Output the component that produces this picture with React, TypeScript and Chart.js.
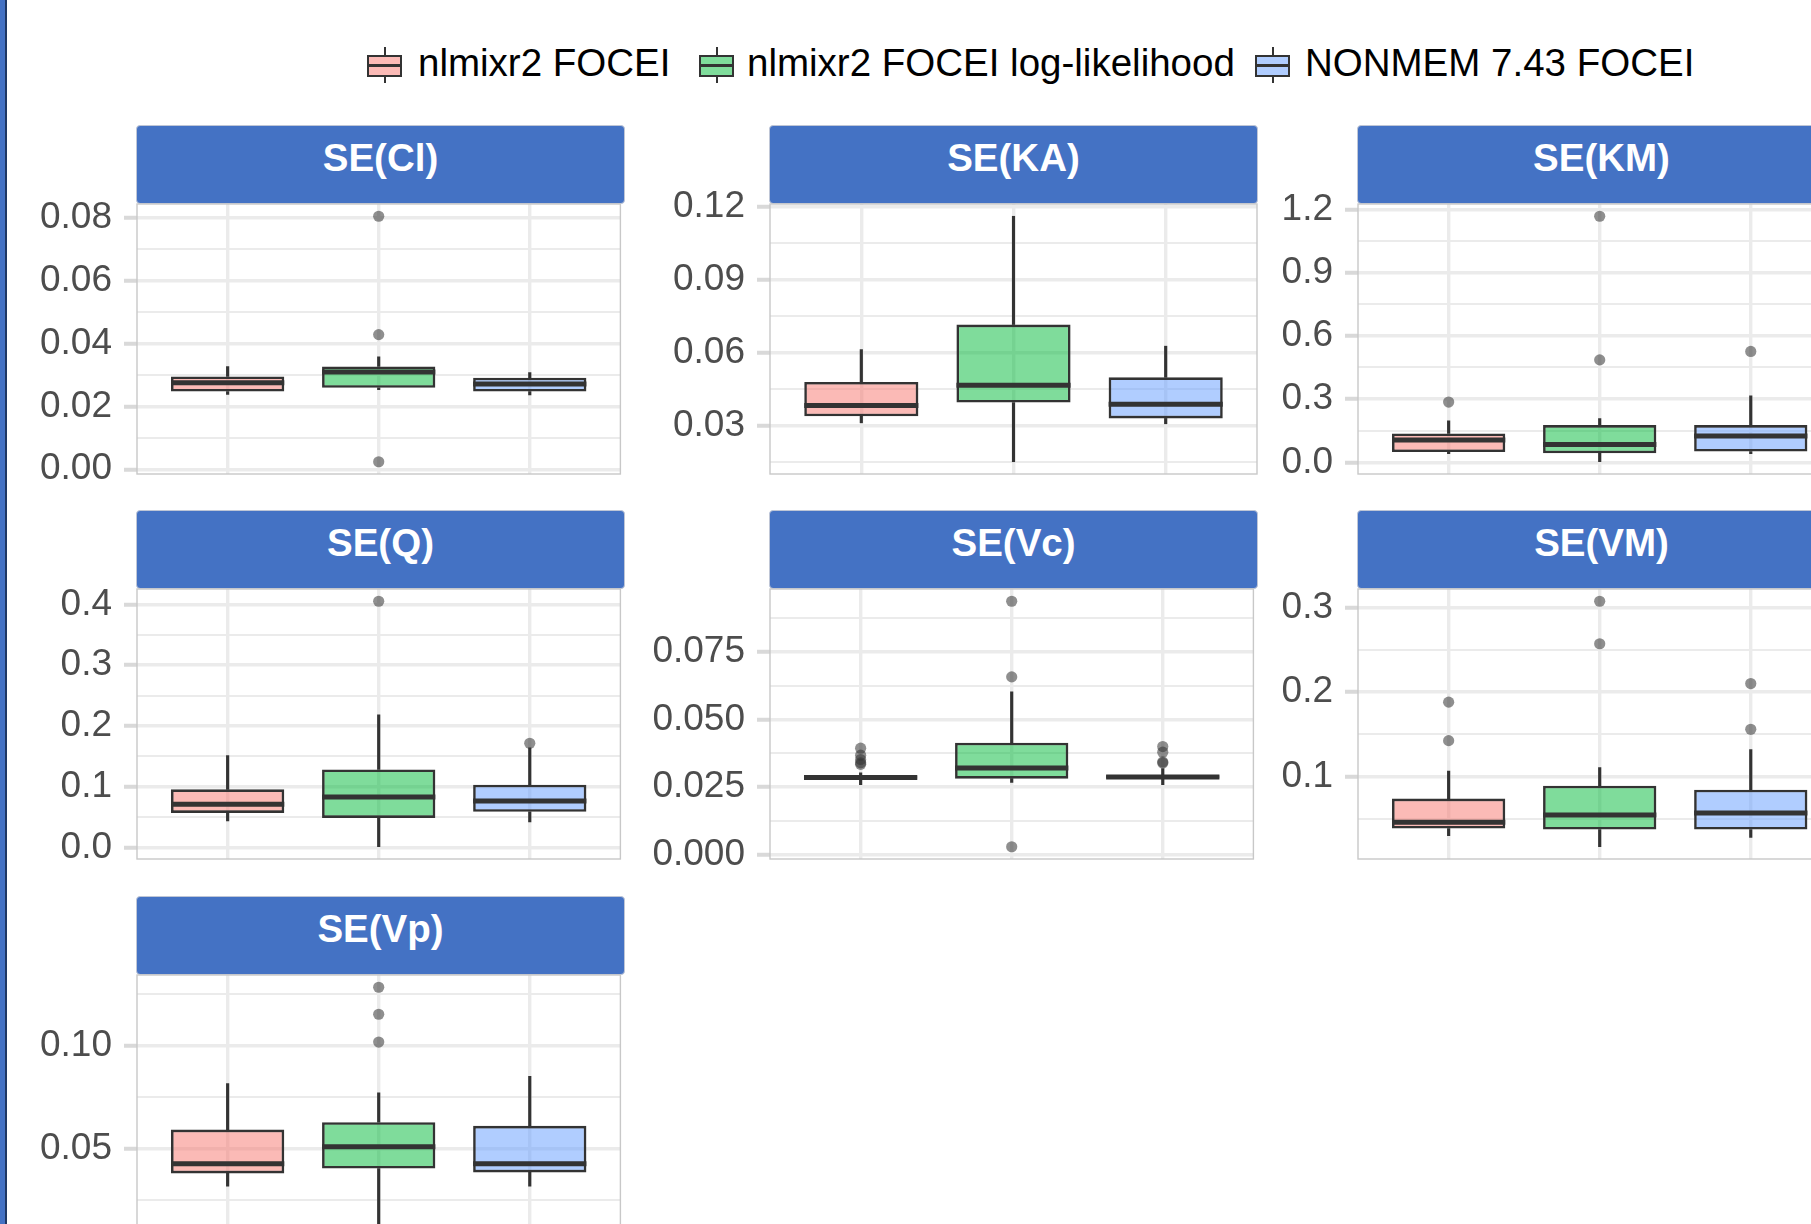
import React, { useEffect, useRef } from "react";
import { Chart, registerables } from "chart.js";

Chart.register(...registerables);
Chart.defaults.font.family = "'Liberation Sans', Arial, Helvetica, sans-serif";

// ---------------- data ----------------
const methods = ["nlmixr2 FOCEI", "nlmixr2 FOCEI log-likelihood", "NONMEM 7.43 FOCEI"];
const methodFills = ["rgba(248,118,109,0.5)", "rgba(0,186,56,0.5)", "rgba(97,156,255,0.5)"];
const panelTitles = ["SE(Cl)", "SE(KA)", "SE(KM)", "SE(Q)", "SE(Vc)", "SE(VM)", "SE(Vp)"];

// per method: [lower whisker, Q1, median, Q3, upper whisker]
const seClStats = [
  [0.0238, 0.0247, 0.0275, 0.0295, 0.0326],
  [0.0253, 0.0259, 0.0309, 0.0327, 0.0357],
  [0.0236, 0.0247, 0.0271, 0.0291, 0.0307],
];
const seClOutliers = [[], [0.0804, 0.0428, 0.0024], []];
const seClTicks = ["0.00", "0.02", "0.04", "0.06", "0.08"];

const seKaStats = [
  [0.0311, 0.0338, 0.0382, 0.0479, 0.0612],
  [0.0151, 0.0394, 0.0465, 0.0715, 0.116],
  [0.0307, 0.0329, 0.0387, 0.0498, 0.0626],
];
const seKaOutliers = [[], [], []];
const seKaTicks = ["0.03", "0.06", "0.09", "0.12"];

const seKmStats = [
  [0.041, 0.049, 0.106, 0.137, 0.197],
  [0.003, 0.043, 0.085, 0.177, 0.208],
  [0.041, 0.051, 0.125, 0.177, 0.316],
];
const seKmOutliers = [[0.286], [1.167, 0.486], [0.526]];
const seKmTicks = ["0.0", "0.3", "0.6", "0.9", "1.2"];

const seQStats = [
  [0.0441, 0.0572, 0.0714, 0.0959, 0.1515],
  [0.0016, 0.049, 0.0834, 0.1286, 0.2185],
  [0.0425, 0.0589, 0.0768, 0.1035, 0.164],
];
const seQOutliers = [[], [0.405], [0.1717]];
const seQTicks = ["0.0", "0.1", "0.2", "0.3", "0.4"];

const seVcStats = [
  [0.0259, 0.0281, 0.0285, 0.0291, 0.0303],
  [0.0267, 0.0281, 0.0321, 0.0414, 0.0603],
  [0.0259, 0.0282, 0.0287, 0.0294, 0.0318],
];
const seVcOutliers = [
  [0.0394, 0.0368, 0.0352, 0.034, 0.0334],
  [0.0938, 0.0658, 0.0029],
  [0.04, 0.0379, 0.0343, 0.0339],
];
const seVcTicks = ["0.000", "0.025", "0.050", "0.075"];

const seVmStats = [
  [0.0297, 0.0383, 0.0458, 0.0737, 0.1063],
  [0.0167, 0.0371, 0.0544, 0.089, 0.1106],
  [0.0277, 0.0371, 0.0568, 0.0843, 0.1318],
];
const seVmOutliers = [[0.188, 0.1424], [0.3075, 0.2572], [0.21, 0.1558]];
const seVmTicks = ["0.1", "0.2", "0.3"];

const seVpStats = [
  [0.0316, 0.0378, 0.0425, 0.0591, 0.0814],
  [0.009, 0.0402, 0.0507, 0.0627, 0.0769],
  [0.0316, 0.0383, 0.0425, 0.0609, 0.085],
];
const seVpOutliers = [[], [0.1282, 0.1151, 0.1016], []];
const seVpTicks = ["0.05", "0.10"];

const panelStats = [seClStats, seKaStats, seKmStats, seQStats, seVcStats, seVmStats, seVpStats];
const panelOutliers = [seClOutliers, seKaOutliers, seKmOutliers, seQOutliers, seVcOutliers, seVmOutliers, seVpOutliers];
const panelTicks = [seClTicks, seKaTicks, seKmTicks, seQTicks, seVcTicks, seVmTicks, seVpTicks];

// ---------------- layout ----------------
const PANEL_LEFTS = [137, 770, 1358];
const PANEL_TOPS = [204, 589, 975];
const PANEL_W = 487;
const PANEL_H = 270;
const STRIP_H = 79;
const AXIS_W = 130;
const PAD = 44;
const BOX_WIDTH = 0.75;

const LEGEND_ICON_X = [367, 699, 1255];
const LEGEND_TEXT_X = [418, 747, 1305];

const STRIP_BLUE = "#4472C4";
const INK = "#333333";
const GRID = "#EBEBEB";

const panelBorder = {
  id: "panelBorder",
  afterDatasetsDraw(chart: any) {
    const { ctx, chartArea: a } = chart;
    ctx.save();
    ctx.strokeStyle = "#C8C8C8";
    ctx.lineWidth = 1.4;
    ctx.strokeRect(a.left, a.top, a.right - a.left, a.bottom - a.top);
    ctx.restore();
  },
};

function buildConfig(idx: number): any {
  const stats = panelStats[idx];
  const outliers = panelOutliers[idx];
  const tickLabels = panelTicks[idx];
  const majors = tickLabels.map((t) => parseFloat(t));

  // ggplot-like range: data range expanded by 5% on each side
  const all: number[] = [];
  stats.forEach((s) => all.push(s[0], s[4]));
  outliers.forEach((o) => o.forEach((v) => all.push(v)));
  const dmin = Math.min(...all);
  const dmax = Math.max(...all);
  const ex = (dmax - dmin) * 0.05;
  const yMin = dmin - ex;
  const yMax = dmax + ex;

  const step = majors.length > 1 ? majors[1] - majors[0] : majors[0];
  const minors: number[] = [];
  for (let i = -1; i < majors.length; i++) {
    const v = (i < 0 ? majors[0] - step : majors[i]) + step / 2;
    if (v > yMin && v < yMax) minors.push(v);
  }
  const isMajor = (v: number) => majors.some((m) => Math.abs(m - v) < step * 1e-6);
  const labelFor = (v: number) => {
    const k = majors.findIndex((m) => Math.abs(m - v) < step * 1e-6);
    return k >= 0 ? tickLabels[k] : "";
  };
  const allTicks = [...majors, ...minors].sort((a, b) => a - b);

  const boxSets = stats.map((s, i) => ({
    type: "bar",
    label: methods[i],
    data: [{ x: i + 1, y: [s[1], s[3]] }],
    backgroundColor: methodFills[i],
    borderColor: INK,
    borderWidth: 2.6,
    borderSkipped: false,
    grouped: false,
    barPercentage: BOX_WIDTH,
    categoryPercentage: 1,
    order: 2,
  }));

  const whiskerData: any[] = [];
  stats.forEach((s, i) => {
    whiskerData.push({ x: i + 1, y: [s[0], s[1]] });
    whiskerData.push({ x: i + 1, y: [s[3], s[4]] });
  });

  const medianData: any[] = [];
  stats.forEach((s, i) => {
    medianData.push({ x: i + 1 - BOX_WIDTH / 2, y: s[2] });
    medianData.push({ x: i + 1 + BOX_WIDTH / 2, y: s[2] });
    medianData.push({ x: i + 1.5, y: null });
  });

  const outlierData: any[] = [];
  outliers.forEach((o, i) => o.forEach((v) => outlierData.push({ x: i + 1, y: v })));

  return {
    type: "bar",
    data: {
      datasets: [
        {
          type: "scatter",
          label: "outliers",
          data: outlierData,
          pointRadius: 5.6,
          pointBackgroundColor: "rgba(51,51,51,0.55)",
          pointBorderWidth: 0,
          order: 0,
        },
        {
          type: "line",
          label: "median",
          data: medianData,
          borderColor: INK,
          borderWidth: 5,
          borderCapStyle: "butt",
          pointRadius: 0,
          spanGaps: false,
          fill: false,
          tension: 0,
          order: 1,
        },
        ...boxSets,
        {
          type: "bar",
          label: "whiskers",
          data: whiskerData,
          backgroundColor: INK,
          borderWidth: 0,
          barThickness: 2.5,
          grouped: false,
          order: 3,
        },
      ],
    },
    options: {
      animation: false,
      responsive: false,
      devicePixelRatio: 1,
      events: [],
      layout: { padding: { top: PAD, bottom: PAD, left: 0, right: 2 } },
      plugins: { legend: { display: false }, tooltip: { enabled: false }, title: { display: false } },
      scales: {
        x: {
          type: "linear",
          min: 0.4,
          max: 3.6,
          offset: false,
          afterBuildTicks: (s: any) => {
            s.ticks = [1, 2, 3].map((v) => ({ value: v }));
          },
          afterFit: (s: any) => {
            s.height = 0;
          },
          ticks: { display: false },
          grid: { color: GRID, lineWidth: 3.4, drawTicks: false, offset: false },
          border: { display: false },
        },
        y: {
          type: "linear",
          min: yMin,
          max: yMax,
          afterBuildTicks: (s: any) => {
            s.ticks = allTicks.map((v) => ({ value: v }));
          },
          afterFit: (s: any) => {
            s.width = AXIS_W;
          },
          ticks: {
            autoSkip: false,
            padding: 12,
            color: "#4D4D4D",
            font: { size: 37 },
            callback: (v: number) => labelFor(v),
          },
          grid: {
            color: GRID,
            lineWidth: (c: any) => (c.tick && isMajor(c.tick.value) ? 3.5 : 2),
            tickLength: 13,
            tickWidth: 4,
            tickColor: (c: any) => (c.tick && isMajor(c.tick.value) ? "#D9D9D9" : "rgba(0,0,0,0)"),
          },
          border: { display: false },
        },
      },
    },
    plugins: [panelBorder],
  };
}

function Panel({ idx }: { idx: number }) {
  const ref = useRef<HTMLCanvasElement | null>(null);
  useEffect(() => {
    if (!ref.current) return;
    const chart = new Chart(ref.current, buildConfig(idx));
    return () => chart.destroy();
  }, [idx]);
  const col = idx % 3;
  const row = Math.floor(idx / 3);
  const left = PANEL_LEFTS[col];
  const top = PANEL_TOPS[row];
  return (
    <>
      <div
        style={{
          position: "absolute",
          left: left - 1,
          top: top - STRIP_H,
          width: PANEL_W + 2,
          height: STRIP_H,
          boxSizing: "border-box",
          background: STRIP_BLUE,
          border: "1px solid #BFC6D6",
          borderRadius: 4,
          color: "#FFFFFF",
          fontWeight: "bold",
          fontSize: 38.5,
          lineHeight: "40px",
          paddingTop: 12,
          textAlign: "center",
          whiteSpace: "nowrap",
        }}
      >
        {panelTitles[idx]}
      </div>
      <canvas
        ref={ref}
        width={AXIS_W + PANEL_W + 2}
        height={PANEL_H + 2 * PAD}
        style={{ position: "absolute", left: left - AXIS_W, top: top - PAD }}
      />
    </>
  );
}

function LegendKey({ i }: { i: number }) {
  const x = LEGEND_ICON_X[i];
  return (
    <>
      <div style={{ position: "absolute", left: x + 16.5, top: 47, width: 2, height: 36, background: INK }} />
      <div
        style={{
          position: "absolute",
          left: x,
          top: 55,
          width: 35,
          height: 22,
          boxSizing: "border-box",
          border: `2.5px solid ${INK}`,
          background: "#fff",
        }}
      >
        <div style={{ position: "absolute", inset: 0, background: methodFills[i] }} />
        <div style={{ position: "absolute", left: 0, right: 0, top: 7, height: 3, background: INK }} />
      </div>
      <div
        style={{
          position: "absolute",
          left: LEGEND_TEXT_X[i],
          top: 41,
          fontSize: 38.5,
          lineHeight: "44px",
          color: "#000",
          whiteSpace: "nowrap",
        }}
      >
        {methods[i]}
      </div>
    </>
  );
}

export default function App() {
  return (
    <div
      style={{
        position: "fixed",
        left: 0,
        top: 0,
        width: 1811,
        height: 1224,
        overflow: "hidden",
        background: "#FFFFFF",
        fontFamily: "'Liberation Sans', Arial, Helvetica, sans-serif",
      }}
    >
      <div
        style={{
          position: "absolute",
          left: 0,
          top: 0,
          width: 5,
          height: 1224,
          background: STRIP_BLUE,
          borderRight: "2.5px solid #1F3864",
        }}
      />
      {methods.map((_, i) => (
        <LegendKey key={i} i={i} />
      ))}
      {panelTitles.map((_, i) => (
        <Panel key={i} idx={i} />
      ))}
    </div>
  );
}
